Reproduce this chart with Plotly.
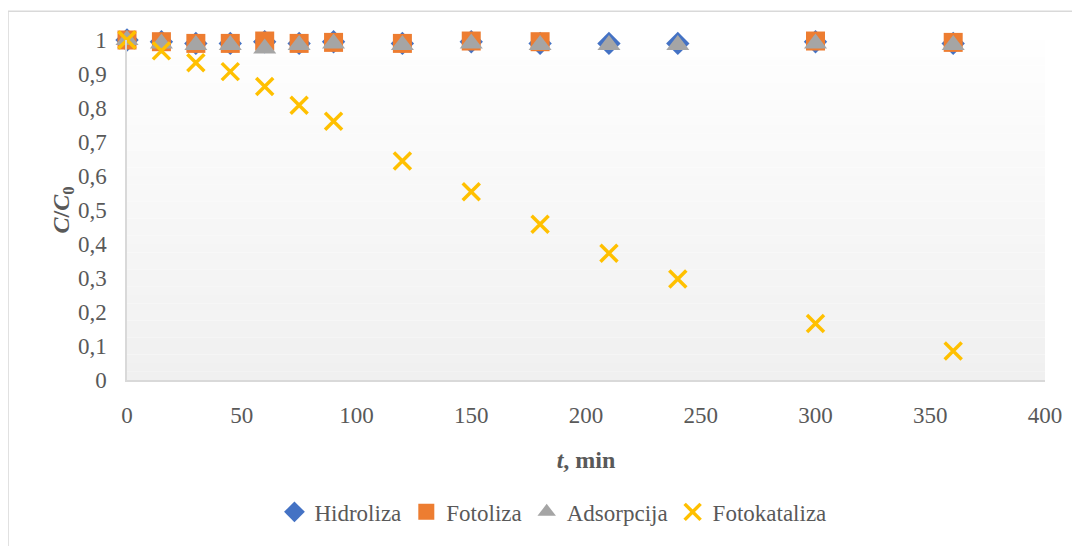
import plotly.graph_objects as go

t_min = [0, 15, 30, 45, 60, 75, 90, 120, 150, 180, 210, 240, 300, 360]
hidroliza = [1.0, 0.995, 0.99, 0.99, 0.995, 0.99, 0.995, 0.99, 0.995, 0.99, 0.99, 0.99, 0.995, 0.99]
fotoliza = [1.0, 0.995, 0.99, 0.99, 0.997, 0.99, 0.993, 0.99, 0.997, 0.995, None, None, 0.997, 0.993]
adsorpcija = [1.0, 0.99, 0.985, 0.985, 0.975, 0.985, 0.99, 0.985, 0.99, 0.985, 0.985, 0.985, 0.99, 0.985]
fotokataliza = [1.0, 0.968, 0.933, 0.907, 0.863, 0.808, 0.761, 0.644, 0.554, 0.458, 0.373, 0.297, 0.166, 0.085]

y_ticks = [0, 0.1, 0.2, 0.3, 0.4, 0.5, 0.6, 0.7, 0.8, 0.9, 1]
x_ticks = [0, 50, 100, 150, 200, 250, 300, 350, 400]

FONT = '"Liberation Serif", "Times New Roman", serif'
GRAY = "#595959"

fig = go.Figure()
fig.add_trace(go.Scatter(x=t_min, y=hidroliza, mode="markers", name="Hidroliza", cliponaxis=False,
                         marker=dict(symbol="diamond", size=18, color="#4472C4")))
fig.add_trace(go.Scatter(x=t_min, y=fotoliza, mode="markers", name="Fotoliza", cliponaxis=False,
                         marker=dict(symbol="square", size=19, color="#ED7D31")))
fig.add_trace(go.Scatter(x=t_min, y=adsorpcija, mode="markers", name="Adsorpcija", cliponaxis=False,
                         marker=dict(symbol="triangle-up", size=20, color="#A5A5A5")))
fig.add_trace(go.Scatter(x=t_min, y=fotokataliza, mode="markers", name="Fotokataliza", cliponaxis=False,
                         marker=dict(symbol="x-thin", size=17, color="#FFC000",
                                     line=dict(color="#FFC000", width=3.5))))

shapes = []
n = 40
for i in range(n):
    f = i / (n - 1)
    v = int(round(254 - (254 - 240) * (1 - f)))
    shapes.append(dict(type="rect", xref="paper", yref="paper", x0=0, x1=1,
                       y0=i / n, y1=(i + 1) / n, layer="below", line=dict(width=0),
                       fillcolor=f"rgb({v},{v},{v})"))
# outer chart frame
shapes.append(dict(type="rect", xref="paper", yref="paper", x0=-0.1296, x1=1.06,
                   y0=-0.5, y1=1.0845, line=dict(color="#d9d9d9", width=1.5),
                   fillcolor="rgba(0,0,0,0)", layer="below"))

fig.update_layout(
    width=1072, height=538,
    margin=dict(l=119, r=35, t=32, b=163),
    paper_bgcolor="white", plot_bgcolor="white",
    separators=",.",
    font=dict(family=FONT, size=23, color=GRAY),
    shapes=shapes,
    showlegend=True,
    legend=dict(orientation="h", x=0.464, xanchor="center", y=-0.388, yanchor="middle",
                font=dict(family=FONT, size=23, color=GRAY),
                itemwidth=30, tracegroupgap=0),
    xaxis=dict(range=[0, 400], tickvals=x_ticks, showgrid=False, zeroline=False,
               showline=True, linecolor="#d9d9d9", linewidth=1.5, ticks="",
               ticklabelstandoff=14,
               tickfont=dict(family=FONT, size=23, color=GRAY),
               title=dict(text="<b><i>t</i>, min</b>", font=dict(family=FONT, size=24, color=GRAY),
                          standoff=24)),
    yaxis=dict(range=[0, 1], tickvals=y_ticks, showgrid=False, zeroline=False,
               showline=True, linecolor="#d9d9d9", linewidth=1.5, ticks="",
               ticklabelstandoff=14,
               tickfont=dict(family=FONT, size=23, color=GRAY),
               title=dict(text="<b><i>C</i>/<i>C</i><sub>0</sub></b>",
                          font=dict(family=FONT, size=24, color=GRAY), standoff=2)),
)

fig.write_html("out.html")
